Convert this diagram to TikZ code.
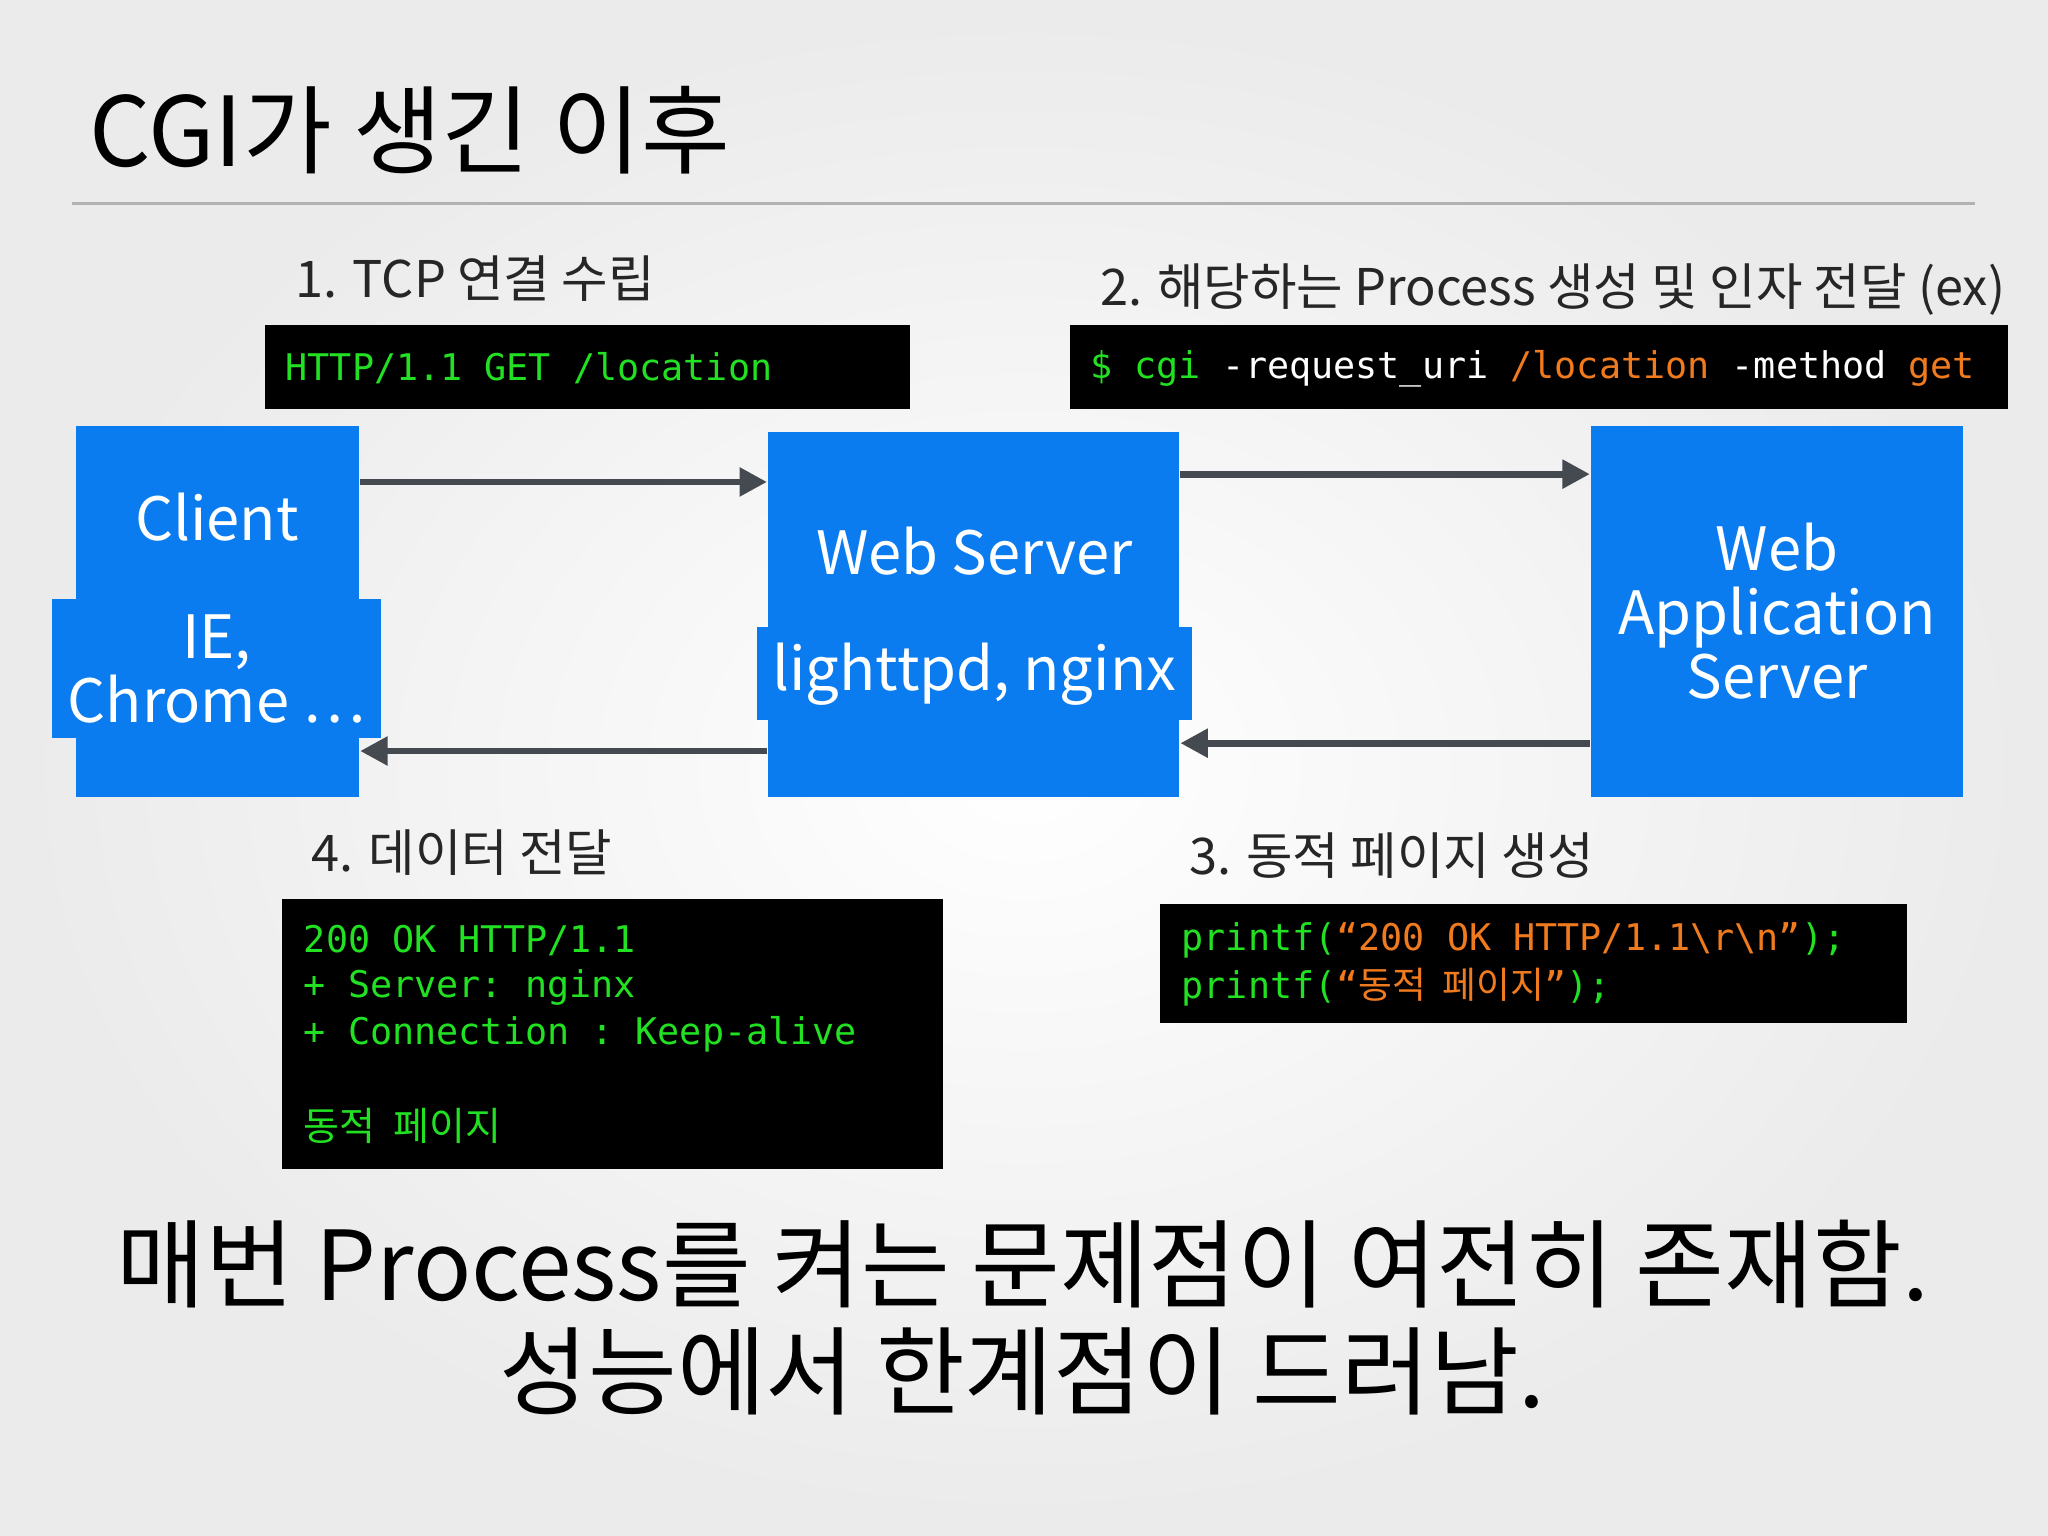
\documentclass[tikz,border=0pt]{standalone}
\usepackage{fontspec}
\setmainfont{Noto Sans CJK KR}
\newfontfamily\cjkm{Noto Sans CJK KR}
\setmonofont{DejaVu Sans Mono}
\usetikzlibrary{arrows.meta}
\definecolor{bxblue}{HTML}{0A7CF0}
\definecolor{cgreen}{HTML}{22E022}
\definecolor{corange}{HTML}{F07A1E}
\definecolor{arr}{HTML}{454A50}
\tikzset{
 blk/.style={fill=black,draw=none},
 srv/.style={fill=bxblue,draw=none,text=white,align=center,font=\fontsize{13}{16}\selectfont},
 lbl/.style={anchor=west,font=\fontsize{11}{13}\selectfont,text=black!85},
 code/.style={anchor=west,font=\ttfamily\fontsize{8}{10}\selectfont,inner sep=0},
 conn/.style={draw=arr,line width=1.5pt,-{Triangle[length=6pt,width=6pt]}},
}
\begin{document}
\begin{tikzpicture}[x=0.01cm,y=-0.01cm]
\useasboundingbox (0,0) rectangle (1568,1176);
\shade[inner color=white,outer color=black!8] (0,0) rectangle (1568,1176);
\node[anchor=west,font=\fontsize{21}{24}\selectfont,inner sep=0] (title) at (68,100) {CGI가 생긴 이후};
\draw[black!30,line width=0.6pt] (55,156) -- (1512,156);
% labels
\node[lbl] (l1) at (214,213) {1. TCP 연결 수립};
\node[lbl] (l2) at (830,222) {2. 해당하는 Process 생성 및 인자 전달 (ex)};
\node[lbl] (l4) at (226,653) {4. 데이터 전달};
\node[lbl] (l3) at (898,655) {3. 동적 페이지 생성};
% code boxes
\fill[blk] (203,249) rectangle (697,313);
\node[code,text=cgreen] (c1) at (218,282) {HTTP/1.1 GET /location};
\fill[blk] (819,249) rectangle (1537,313);
\node[code] (c2) at (834,282) {\textcolor{cgreen}{\$ cgi} \textcolor{white}{-request\_uri} \textcolor{corange}{/location} \textcolor{white}{-method} \textcolor{corange}{get}};
\fill[blk] (216,688) rectangle (722,895);
\node[code,text=cgreen] (c41) at (232,720) {200 OK HTTP/1.1};
\node[code,text=cgreen] (c42) at (232,756) {+ Server: nginx};
\node[code,text=cgreen] (c43) at (232,792) {+ Connection : Keep-alive};
\node[code,text=cgreen,font=\cjkm\fontsize{8.5}{10}\selectfont] (c44) at (232,862) {동적\ \ 페이지};
\fill[blk] (888,692) rectangle (1460,783);
\node[code,text=cgreen] (c31) at (904,720) {printf(\textcolor{corange}{“200 OK HTTP/1.1\textbackslash r\textbackslash n”});};
\node[code,text=cgreen] (c32) at (904,756) {printf(\textcolor{corange}{“{\cjkm 동적\ \ 페이지}”});};
% servers
\node[srv,minimum width=217*0.01cm,minimum height=284*0.01cm] (client) at (166.5,468) {};
\node[srv,font=\fontsize{13}{16}\selectfont] (ct1) at (166,396) {Client};
\node[srv,font=\fontsize{13}{14}\selectfont] (ct2) at (166,512) {IE,\\Chrome \char"22EF};
\node[srv,minimum width=315*0.01cm,minimum height=279*0.01cm] (ws) at (745.5,470.5) {};
\node[srv] (wt1) at (746,422) {Web Server};
\node[srv] (wt2) at (746,516) {lighttpd, nginx};
\node[srv,minimum width=285*0.01cm,minimum height=284*0.01cm,font=\fontsize{13}{14}\selectfont] (was) at (1360.5,468) {Web\\Application\\Server};
% arrows
\draw[conn] (client.east |- 0,369) -- (ws.west |- 0,369);
\draw[conn] (ws.west |- 0,575) -- (client.east |- 0,575);
\draw[conn] (ws.east |- 0,363) -- (was.west |- 0,363);
\draw[conn] (was.west |- 0,569) -- (ws.east |- 0,569);
% bottom
\node[font=\fontsize{21}{24}\selectfont,align=center] (b1) at (783,968) {매번 Process를 켜는 문제점이 여전히 존재함.};
\node[font=\fontsize{21}{24}\selectfont,align=center] (b2) at (783,1050) {성능에서 한계점이 드러남.};
\end{tikzpicture}
\end{document}
